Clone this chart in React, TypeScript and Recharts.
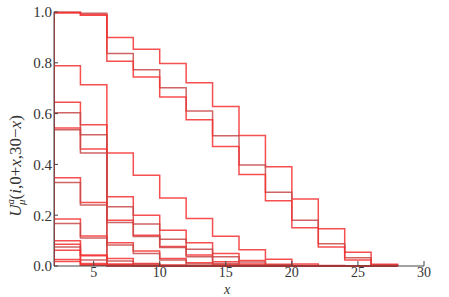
import { LineChart, Line, XAxis, YAxis } from 'recharts';

// bins start at these x values, each bin is 2 wide
const binStarts = [2, 4, 6, 8, 10, 12, 14, 16, 18, 20, 22, 24, 26];
const endX = 28;

const xTicks = [5, 10, 15, 20, 25, 30];
const yTicks = [0, 0.2, 0.4, 0.6, 0.8, 1.0];

// top group
const seriesA = [0.997, 0.988, 0.9, 0.853, 0.797, 0.721, 0.628, 0.514, 0.391, 0.264, 0.147, 0.054, 0.007];
const seriesB = [1.0, 0.995, 0.837, 0.773, 0.702, 0.61, 0.513, 0.398, 0.29, 0.18, 0.088, 0.032, 0.004];
const seriesC = [0.997, 0.988, 0.806, 0.744, 0.665, 0.576, 0.47, 0.36, 0.257, 0.151, 0.075, 0.024, 0.003];
// middle
const seriesD = [0.788, 0.714, 0.445, 0.357, 0.268, 0.187, 0.117, 0.064, 0.027, 0.008, 0.002, 0, 0];
const seriesE1 = [0.645, 0.556, 0.273, 0.2, 0.141, 0.092, 0.049, 0.022, 0.007, 0.002, 0, 0, 0];
const seriesE2 = [0.603, 0.517, 0.233, 0.165, 0.105, 0.066, 0.036, 0.016, 0.005, 0.001, 0, 0, 0];
const seriesE3 = [0.543, 0.461, 0.18, 0.121, 0.077, 0.043, 0.017, 0.008, 0.002, 0, 0, 0, 0];
const seriesE4 = [0.536, 0.445, 0.171, 0.116, 0.073, 0.036, 0.01, 0.004, 0.001, 0, 0, 0, 0];
// lower
const seriesF1 = [0.347, 0.25, 0.092, 0.059, 0.03, 0.013, 0.005, 0.002, 0, 0, 0, 0, 0];
const seriesF2 = [0.329, 0.24, 0.083, 0.049, 0.024, 0.008, 0.003, 0.001, 0, 0, 0, 0, 0];
const seriesF3 = [0.185, 0.118, 0.03, 0.01, 0.004, 0.001, 0, 0, 0, 0, 0, 0, 0];
const seriesF4 = [0.167, 0.11, 0.02, 0.007, 0.002, 0, 0, 0, 0, 0, 0, 0, 0];
const seriesF5 = [0.099, 0.043, 0.008, 0.002, 0, 0, 0, 0, 0, 0, 0, 0, 0];
const seriesF6 = [0.086, 0.04, 0.005, 0.001, 0, 0, 0, 0, 0, 0, 0, 0, 0];
const seriesF7 = [0.075, 0.024, 0.003, 0, 0, 0, 0, 0, 0, 0, 0, 0, 0];
const seriesF8 = [0.062, 0.01, 0.002, 0, 0, 0, 0, 0, 0, 0, 0, 0, 0];
const seriesF9 = [0.026, 0.005, 0.001, 0, 0, 0, 0, 0, 0, 0, 0, 0, 0];
const seriesF10 = [0.018, 0.003, 0, 0, 0, 0, 0, 0, 0, 0, 0, 0, 0];

const RED = '#f53030';
const DARK = '#c84848';

const allSeries = [
  { name: 'A', values: seriesA, color: RED },
  { name: 'B', values: seriesB, color: DARK },
  { name: 'C', values: seriesC, color: RED },
  { name: 'D', values: seriesD, color: RED },
  { name: 'E1', values: seriesE1, color: RED },
  { name: 'E2', values: seriesE2, color: DARK },
  { name: 'E3', values: seriesE3, color: RED },
  { name: 'E4', values: seriesE4, color: DARK },
  { name: 'F1', values: seriesF1, color: RED },
  { name: 'F2', values: seriesF2, color: DARK },
  { name: 'F3', values: seriesF3, color: RED },
  { name: 'F4', values: seriesF4, color: DARK },
  { name: 'F5', values: seriesF5, color: RED },
  { name: 'F6', values: seriesF6, color: RED },
  { name: 'F7', values: seriesF7, color: DARK },
  { name: 'F8', values: seriesF8, color: RED },
  { name: 'F9', values: seriesF9, color: RED },
  { name: 'F10', values: seriesF10, color: RED },
];

// outline of a histogram: up at the first edge, down at the last
function toSteps(values: number[]) {
  return [
    { x: binStarts[0], y: 0 },
    ...values.map((v, i) => ({ x: binStarts[i], y: v })),
    { x: endX, y: 0 },
  ];
}

const font = 'Liberation Serif, Times New Roman, serif';

function YLabel() {
  return (
    <text
      x={21}
      y={166}
      transform="rotate(-90 21 166)"
      textAnchor="middle"
      fontFamily={font}
      fontSize={17}
      fill="#333"
    >
      <tspan fontStyle="italic">U</tspan>
      <tspan fontStyle="italic" fontSize={11} dy={-7}>a</tspan>
      <tspan fontStyle="italic" fontSize={11} dx={-6} dy={11}>μ</tspan>
      <tspan dy={-4}>(</tspan>
      <tspan fontStyle="italic">i</tspan>
      <tspan>,0+</tspan>
      <tspan fontStyle="italic">x</tspan>
      <tspan>,30−</tspan>
      <tspan fontStyle="italic">x</tspan>
      <tspan>)</tspan>
    </text>
  );
}

function XLabel() {
  return (
    <text x={227} y={294} textAnchor="middle" fontFamily={font} fontSize={14} fontStyle="italic" fill="#333">
      x
    </text>
  );
}

export default function App() {
  return (
    <div style={{ position: 'absolute', left: 0, top: 0 }}>
      <LineChart width={449} height={297} margin={{ top: 12, right: 25, left: 0, bottom: 0 }}>
        <XAxis
          type="number"
          dataKey="x"
          domain={[2, 30]}
          ticks={xTicks}
          allowDataOverflow
          height={31}
          stroke="#444"
          tickSize={-5}
          tickMargin={6}
          tick={{ fill: '#333', fontSize: 14, fontFamily: font }}
          label={<XLabel />}
        />
        <YAxis
          type="number"
          domain={[0, 1]}
          ticks={yTicks}
          width={54}
          stroke="#444"
          tickSize={-4}
          tickMargin={6}
          tickFormatter={(v: number) => v.toFixed(1)}
          tick={{ fill: '#333', fontSize: 15, fontFamily: font }}
          label={<YLabel />}
        />
        {allSeries.map((s) => (
          <Line
            key={s.name}
            data={toSteps(s.values)}
            dataKey="y"
            type="stepAfter"
            stroke={s.color}
            strokeWidth={1.5}
            strokeOpacity={0.85}
            dot={false}
            isAnimationActive={false}
          />
        ))}
      </LineChart>
    </div>
  );
}
